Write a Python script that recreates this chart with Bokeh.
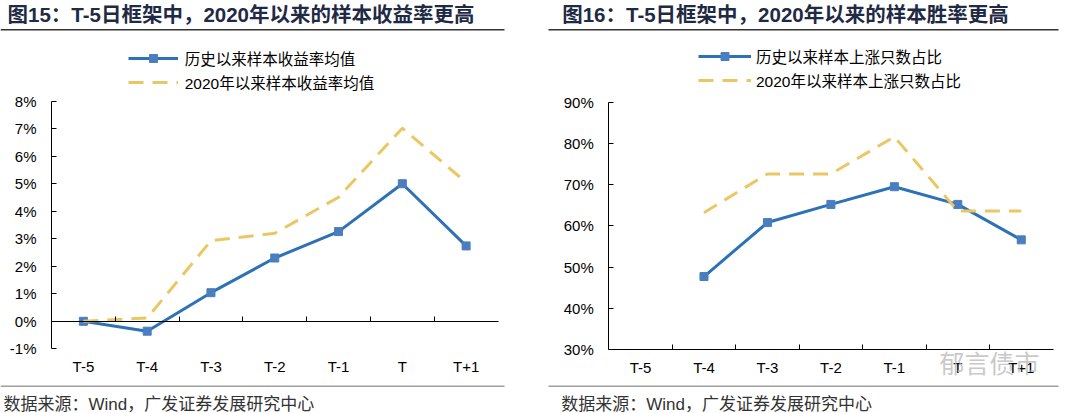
from bokeh.plotting import figure
from bokeh.layouts import row
from bokeh.models import (FixedTicker, PrintfTickFormatter, Label, BoxAnnotation,
                          Legend, LegendItem, ColumnDataSource, LinearAxis)
from bokeh.embed import file_html
from bokeh.resources import INLINE

# ---------------- data ----------------
categories = ["T-5", "T-4", "T-3", "T-2", "T-1", "T", "T+1"]

ret_hist = [0.0, -0.36, 1.04, 2.30, 3.26, 5.00, 2.74]      # 历史以来样本收益率均值 (%)
ret_2020 = [0.0, 0.12, 2.93, 3.20, 4.51, 7.02, 5.05]       # 2020年以来样本收益率均值 (%)

win_hist = [float("nan"), 47.7, 60.8, 65.2, 69.5, 65.2, 56.6]   # 历史以来样本上涨只数占比 (%)
win_2020 = [float("nan"), 63.2, 72.6, 72.6, 81.6, 63.6, 63.6]   # 2020年以来样本上涨只数占比 (%)

ret_ticks = [-1, 0, 1, 2, 3, 4, 5, 6, 7, 8]
win_ticks = [30, 40, 50, 60, 70, 80, 90]

title_left = "图15：T-5日框架中，2020年以来的样本收益率更高"
title_right = "图16：T-5日框架中，2020年以来的样本胜率更高"
legend_left = ["历史以来样本收益率均值", "2020年以来样本收益率均值"]
legend_right = ["历史以来样本上涨只数占比", "2020年以来样本上涨只数占比"]
source_text = "数据来源：Wind，广发证券发展研究中心"
watermark = "郁言债市"

# ---------------- style ----------------
FONT = "Liberation Sans, Noto Sans CJK SC"
BLUE = "#2C72B5"
BLUE_MK = "#4A7EBE"
GOLD = "#E9C864"
TITLE_C = "#1F2A44"
W, H = 540, 413


def make_chart(L, R, T, B, ylo, yhi, yticks, s_hist, s_2020, labels,
               leg_xy, glyph_w, leg_standoff, axis_at_zero):
    n = len(categories)
    xs = list(range(n))
    ux = (R - L) / n
    uy = (B - T) / (yhi - ylo)
    x_range = (-0.5 - L / ux, -0.5 + (W - L) / ux)
    y_range = (ylo - (H - B) / uy, yhi + T / uy)
    p = figure(width=W, height=H, output_backend="svg", toolbar_location=None,
               x_range=x_range, y_range=y_range,
               min_border_left=0, min_border_right=0, min_border_top=0, min_border_bottom=0)
    p.outline_line_color = None
    p.grid.visible = False
    p.background_fill_color = "white"
    p.border_fill_color = "white"

    # y axis
    ya = p.yaxis[0]
    ya.fixed_location = -0.5
    ya.bounds = (ylo, yhi)
    ya.ticker = FixedTicker(ticks=yticks)
    ya.formatter = PrintfTickFormatter(format="%d%%")
    ya.major_tick_in = 5
    ya.major_tick_out = 0
    ya.minor_tick_line_color = None
    ya.axis_line_color = "black"
    ya.major_tick_line_color = "black"
    ya.major_label_text_font = FONT
    ya.major_label_text_font_size = "15px"
    ya.major_label_text_color = "black"
    ya.major_label_standoff = 15

    # x axis (category labels at the bottom of the plot area)
    xa = p.xaxis[0]
    xa.fixed_location = ylo
    xa.bounds = (-0.5, n - 0.5)
    xa.ticker = FixedTicker(ticks=xs)
    xa.major_label_overrides = {i: c for i, c in enumerate(categories)}
    xa.major_tick_line_color = None
    xa.minor_tick_line_color = None
    xa.axis_line_color = None
    xa.major_label_text_font = FONT
    xa.major_label_text_font_size = "15px"
    xa.major_label_text_color = "black"
    xa.major_label_standoff = 3

    # category axis line with boundary ticks
    bx = [i + 0.5 for i in range(n - 1)]
    base = 0 if axis_at_zero else ylo
    ax2 = LinearAxis(fixed_location=base, bounds=(-0.5, n - 0.5),
                     ticker=FixedTicker(ticks=bx),
                     major_label_overrides={b: "" for b in bx},
                     major_tick_in=5, major_tick_out=0,
                     minor_tick_line_color=None,
                     axis_line_color="black", major_tick_line_color="black")
    p.add_layout(ax2, "below")

    src = ColumnDataSource(dict(x=xs, h=s_hist, g=s_2020))
    l1 = p.line("x", "h", source=src, line_color=BLUE, line_width=3)
    m1 = p.scatter("x", "h", source=src, marker="square", size=8,
                   fill_color=BLUE_MK, line_color=BLUE_MK)
    l2 = p.line("x", "g", source=src, line_color=GOLD, line_width=3, line_dash="15 9")

    leg = Legend(items=[LegendItem(label=labels[0], renderers=[l1, m1]),
                        LegendItem(label=labels[1], renderers=[l2])],
                 location=leg_xy, orientation="vertical")
    leg.glyph_width = glyph_w
    leg.glyph_height = 20
    leg.label_height = 20
    leg.spacing = 2
    leg.padding = 0
    leg.margin = 0
    leg.label_standoff = leg_standoff
    leg.border_line_alpha = 0
    leg.background_fill_alpha = 0
    leg.label_text_font = FONT
    leg.label_text_font_size = "15.5px"
    leg.label_text_color = "black"
    p.add_layout(leg)
    return p


def decorate(p, title, tx, rx0, rx1, srcx):
    # screen units: from the bottom-left of the (full-size) plot area
    p.add_layout(Label(x=tx, y=H - 14, x_units="screen", y_units="screen", text=title,
                       text_font=FONT, text_font_size="20.5px", text_font_style="bold",
                       text_color=TITLE_C, text_baseline="middle", text_align="left"))
    p.add_layout(BoxAnnotation(left=rx0, right=rx1, top=H - 28.6, bottom=H - 30.0,
                               left_units="screen", right_units="screen",
                               top_units="screen", bottom_units="screen",
                               fill_color="#333333", fill_alpha=1, line_alpha=0))
    p.add_layout(BoxAnnotation(left=rx0, right=rx1, top=H - 385.0, bottom=H - 386.6,
                               left_units="screen", right_units="screen",
                               top_units="screen", bottom_units="screen",
                               fill_color="#A0A0A0", fill_alpha=1, line_alpha=0))
    p.add_layout(Label(x=srcx, y=H - 404, x_units="screen", y_units="screen", text=source_text,
                       text_font=FONT, text_font_size="17px", text_color="#333333",
                       text_baseline="middle", text_align="left"))


p1 = make_chart(51, 497.5, 100.7, 348.3, -1, 8, ret_ticks, ret_hist, ret_2020, legend_left,
                (127.7, H - 93), 50, 7, True)
p2 = make_chart(68.3, 512.5, 101.7, 349, 30, 90, win_ticks, win_hist, win_2020, legend_right,
                (158, H - 91.3), 53, 5, False)

decorate(p1, title_left, 7, 0, 504, 3)
decorate(p2, title_right, 21.7, 8, 518, 20.7)

p2.add_layout(Label(x=399, y=H - 363, x_units="screen", y_units="screen", text=watermark,
                    text_font=FONT, text_font_size="25px", text_color="#BBBBBB",
                    text_alpha=0.8, text_baseline="middle", text_align="left"))

layout = row(p1, p2)
open("out.html", "w").write(file_html(layout, INLINE))
